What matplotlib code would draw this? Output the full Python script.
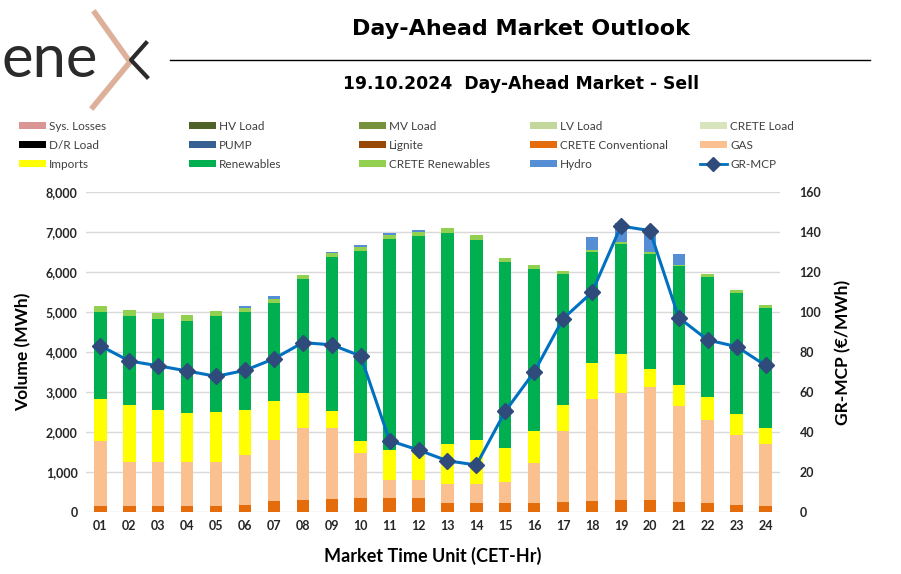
import matplotlib
matplotlib.use("Agg")
import matplotlib.pyplot as plt
from matplotlib.patches import Patch
from matplotlib.lines import Line2D
import numpy as np

plt.rcParams['font.family'] = ['Lato', 'DejaVu Sans']

hours = [f"{h:02d}" for h in range(1, 25)]

# MWh per source (Day-Ahead Market - Sell)
crete_conv = [150, 150, 150, 150, 150, 168, 260, 293, 326, 335, 335, 335,
              226, 226, 209, 226, 243, 276, 293, 285, 251, 218, 176, 143]
gas = [1620, 1103, 1103, 1103, 1103, 1244, 1536, 1811, 1778, 1127, 467, 467,
       475, 475, 543, 994, 1770, 2546, 2688, 2830, 2404, 2079, 1745, 1560]
imports = [1052, 1411, 1285, 1210, 1252, 1135, 976, 860, 418, 308, 735, 735,
           987, 1095, 844, 809, 651, 894, 969, 451, 526, 575, 526, 393]
renewables = [2171, 2246, 2298, 2323, 2398, 2463, 2446, 2864, 3849, 4767, 5300, 5375,
              5292, 5009, 4650, 4042, 3281, 2796, 2754, 2888, 2965, 3014, 3022, 3013]
crete_renew = [157, 140, 149, 141, 124, 100, 100, 108, 100, 100, 100, 93,
               125, 117, 108, 100, 92, 50, 50, 50, 41, 67, 75, 75]
hydro = [0, 0, 0, 0, 0, 50, 92, 0, 41, 43, 50, 50,
         0, 0, 0, 0, 0, 326, 468, 442, 259, 0, 0, 0]
gr_mcp = [83.1, 75.5, 73.1, 70.5, 67.8, 70.8, 76.6, 84.7, 83.6, 78.0, 35.6, 30.9,
          25.5, 23.4, 50.3, 70.0, 96.7, 109.9, 143.1, 140.8, 97.2, 86.0, 82.7, 73.3]

colors = {
    'Sys. Losses': '#DA9694', 'HV Load': '#4F6228', 'MV Load': '#76923C',
    'LV Load': '#C3D69B', 'CRETE Load': '#D8E4BC',
    'D/R Load': '#000000', 'PUMP': '#366092', 'Lignite': '#974706',
    'CRETE Conventional': '#E46C0A', 'GAS': '#FAC090',
    'Imports': '#FFFF00', 'Renewables': '#00B050', 'CRETE Renewables': '#92D050',
    'Hydro': '#558ED5',
}
line_col = '#0070C0'
marker_col = '#2F4B7C'
txt_col = '#262626'

fig = plt.figure(figsize=(9.01, 5.74), dpi=100)
ax = fig.add_axes([0.0954, 0.1085, 0.7703, 0.5565])

x = np.arange(len(hours))
stack = [('CRETE Conventional', crete_conv), ('GAS', gas), ('Imports', imports),
         ('Renewables', renewables), ('CRETE Renewables', crete_renew), ('Hydro', hydro)]
bottom = np.zeros(len(hours))
for name, vals in stack:
    vals = np.array(vals, dtype=float)
    ax.bar(x, vals, 0.43, bottom=bottom, color=colors[name], zorder=2)
    bottom += vals

ax.set_xlim(-0.5, 23.5)
ax.set_ylim(0, 8000)
ax.set_yticks(np.arange(0, 8001, 1000))
ax.set_yticklabels([f"{v:,}" for v in range(0, 8001, 1000)])
ax.set_xticks(x)
ax.set_xticklabels(hours)
ax.grid(axis='y', color='#D9D9D9', linewidth=1, zorder=0)
ax.set_axisbelow(True)
for s in ax.spines.values():
    s.set_visible(False)
ax.tick_params(length=0, labelsize=9, colors=txt_col, pad=6)
for lab in ax.get_xticklabels() + ax.get_yticklabels():
    lab.set_fontweight('bold')
ax.set_ylabel('Volume (MWh)', fontsize=12.5, fontweight='bold', color='black', labelpad=10)
ax.set_xlabel('Market Time Unit (CET-Hr)', fontsize=13, fontweight='bold', color='black', labelpad=11)

ax2 = ax.twinx()
ax2.plot(x, gr_mcp, color=line_col, linewidth=2.2, marker='D', markersize=8.5,
         markerfacecolor=marker_col, markeredgecolor=marker_col, zorder=5)
ax2.set_ylim(0, 160)
ax2.set_yticks(np.arange(0, 161, 20))
for s in ax2.spines.values():
    s.set_visible(False)
ax2.tick_params(length=0, labelsize=9, colors=txt_col, pad=14)
for lab in ax2.get_yticklabels():
    lab.set_fontweight('bold')
ax2.set_ylabel('GR-MCP (€/MWh)', fontsize=12.5, fontweight='bold', color='black', labelpad=10)

# titles
fig.text(0.5785, 0.949, 'Day-Ahead Market Outlook', ha='center', va='center',
         fontsize=16, fontweight='bold', color='black', family='DejaVu Sans')
fig.add_artist(Line2D([0.189, 0.966], [0.895, 0.895], color='black', linewidth=1))
fig.text(0.5785, 0.853, '19.10.2024  Day-Ahead Market - Sell', ha='center', va='center',
         fontsize=12.4, fontweight='bold', color='black', family='DejaVu Sans')

# logo
fig.text(0.002, 0.895, 'ene', ha='left', va='center', fontsize=43, color='#2B2B2B')
fig.add_artist(Line2D([95 / 901, 130 / 901, 93 / 901],
                      [1 - 13 / 574, 1 - 62 / 574, 1 - 107 / 574],
                      color='#DDB09A', linewidth=4, solid_joinstyle='miter'))
fig.add_artist(Line2D([146 / 901, 131 / 901, 147 / 901],
                      [1 - 43 / 574, 1 - 60 / 574, 1 - 77 / 574],
                      color='#2B2B2B', linewidth=3))

# legend (row-major like the original, one legend per column)
legend_rows = [
    ['Sys. Losses', 'HV Load', 'MV Load', 'LV Load', 'CRETE Load'],
    ['D/R Load', 'PUMP', 'Lignite', 'CRETE Conventional', 'GAS'],
    ['Imports', 'Renewables', 'CRETE Renewables', 'Hydro', 'GR-MCP'],
]
col_x = [13, 183, 353, 524, 694]
for c in range(5):
    handles, labels = [], []
    for r in range(3):
        name = legend_rows[r][c]
        if name == 'GR-MCP':
            h = Line2D([], [], color=line_col, linewidth=2, marker='D', markersize=7,
                       markerfacecolor=marker_col, markeredgecolor=marker_col)
        else:
            h = Patch(facecolor=colors[name])
        handles.append(h)
        labels.append(name)
    leg = fig.legend(handles, labels, loc='upper left',
                     bbox_to_anchor=(col_x[c] / 901, 1 - 115 / 574),
                     frameon=False, fontsize=8.5, handlelength=2.3, handleheight=0.5,
                     handletextpad=0.25, labelspacing=0.68, borderpad=0)
    for t in leg.get_texts():
        t.set_color('#404040')

fig.savefig('out.png', dpi=100)
